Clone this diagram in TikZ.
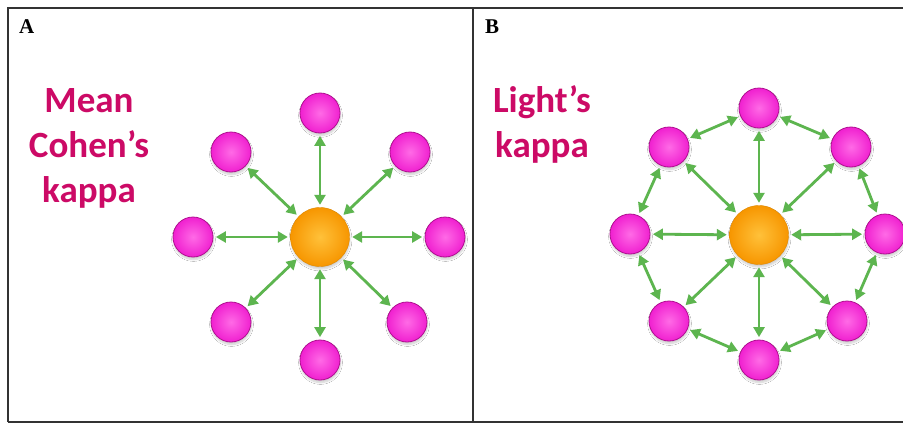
\documentclass[tikz,border=0pt]{standalone}
\usepackage{fontspec}
\setmainfont{Liberation Serif}
\newfontfamily\labelfont{Carlito}
\usetikzlibrary{arrows.meta,shadows.blur}
\definecolor{kgreen}{HTML}{5DB54F}
\definecolor{kpinkin}{HTML}{FF6AE6}
\definecolor{kpinkout}{HTML}{F020D0}
\definecolor{kpinkedge}{HTML}{B01090}
\definecolor{korangein}{HTML}{FFC13A}
\definecolor{korangeout}{HTML}{F79600}
\definecolor{ktext}{HTML}{CC0A66}
\definecolor{kframe}{HTML}{333333}
\tikzset{
  pinkball/.style={circle, minimum size=40pt, inner sep=0pt, draw=kpinkedge, line width=0.8pt,
    shading=radial, inner color=kpinkin, outer color=kpinkout,
    blur shadow={shadow xshift=0.5pt, shadow yshift=-2.5pt, shadow blur steps=8, shadow opacity=20}},
  orangeball/.style={circle, minimum size=59pt, inner sep=0pt, draw=korangeout!90!black, line width=0.4pt,
    shading=radial, inner color=korangein, outer color=korangeout,
    blur shadow={shadow xshift=0.5pt, shadow yshift=-2.5pt, shadow blur steps=8, shadow opacity=20}},
  link/.style={draw=kgreen, line width=2.8pt,
    {Triangle[length=10pt,width=11pt]}-{Triangle[length=10pt,width=11pt]},
    shorten <=2.5pt, shorten >=2.5pt},
  paneltag/.style={font=\bfseries\fontsize{21}{24}\selectfont, anchor=base west, inner sep=0pt},
  bigtitle/.style={font=\labelfont\bfseries\fontsize{37}{45}\selectfont, text=ktext, align=center,
    anchor=base, inner sep=0pt},
}
\begin{document}
\begin{tikzpicture}[x=1pt,y=-1pt]
\useasboundingbox (0,0) rectangle (903,423);
\fill[white] (0,0) rectangle (903,423);
\draw[kframe, line width=1.3pt] (8,422) -- (8,8) -- (906,8);
\draw[kframe, line width=1.3pt] (8,422) -- (906,422);
\draw[kframe, line width=1.3pt] (473,8) -- (473,422);

\node[paneltag] (tagA) at (19,33) {A};
\node[paneltag] (tagB) at (485,33) {B};

\node[bigtitle] (titleA) at (89,202) {Mean\\Cohen’s\\kappa};
\node[bigtitle] (titleB) at (542,157) {Light’s\\kappa};

% Panel A
\node[orangeball] (c) at (320,237) {};
\node[pinkball] (p1) at (320,113) {};
\node[pinkball] (p2) at (410,152) {};
\node[pinkball] (p3) at (445,237) {};
\node[pinkball] (p4) at (407,322) {};
\node[pinkball] (p5) at (320,360) {};
\node[pinkball] (p6) at (231,322) {};
\node[pinkball] (p7) at (193,237) {};
\node[pinkball] (p8) at (231,152) {};
\foreach \i in {1,...,8} \draw[link] (p\i) -- (c);

% Panel B
\node[orangeball] (C) at (759,235) {};
\node[pinkball] (q1) at (759,108) {};
\node[pinkball] (q2) at (851,147) {};
\node[pinkball] (q3) at (885,234) {};
\node[pinkball] (q4) at (847,321) {};
\node[pinkball] (q5) at (759,360) {};
\node[pinkball] (q6) at (669,321) {};
\node[pinkball] (q7) at (630,234) {};
\node[pinkball] (q8) at (669,147) {};
\foreach \i in {1,...,8} \draw[link] (q\i) -- (C);
\draw[link] (q1) -- (q2);
\draw[link] (q2) -- (q3);
\draw[link] (q3) -- (q4);
\draw[link] (q4) -- (q5);
\draw[link] (q5) -- (q6);
\draw[link] (q6) -- (q7);
\draw[link] (q7) -- (q8);
\draw[link] (q8) -- (q1);
\end{tikzpicture}
\end{document}
